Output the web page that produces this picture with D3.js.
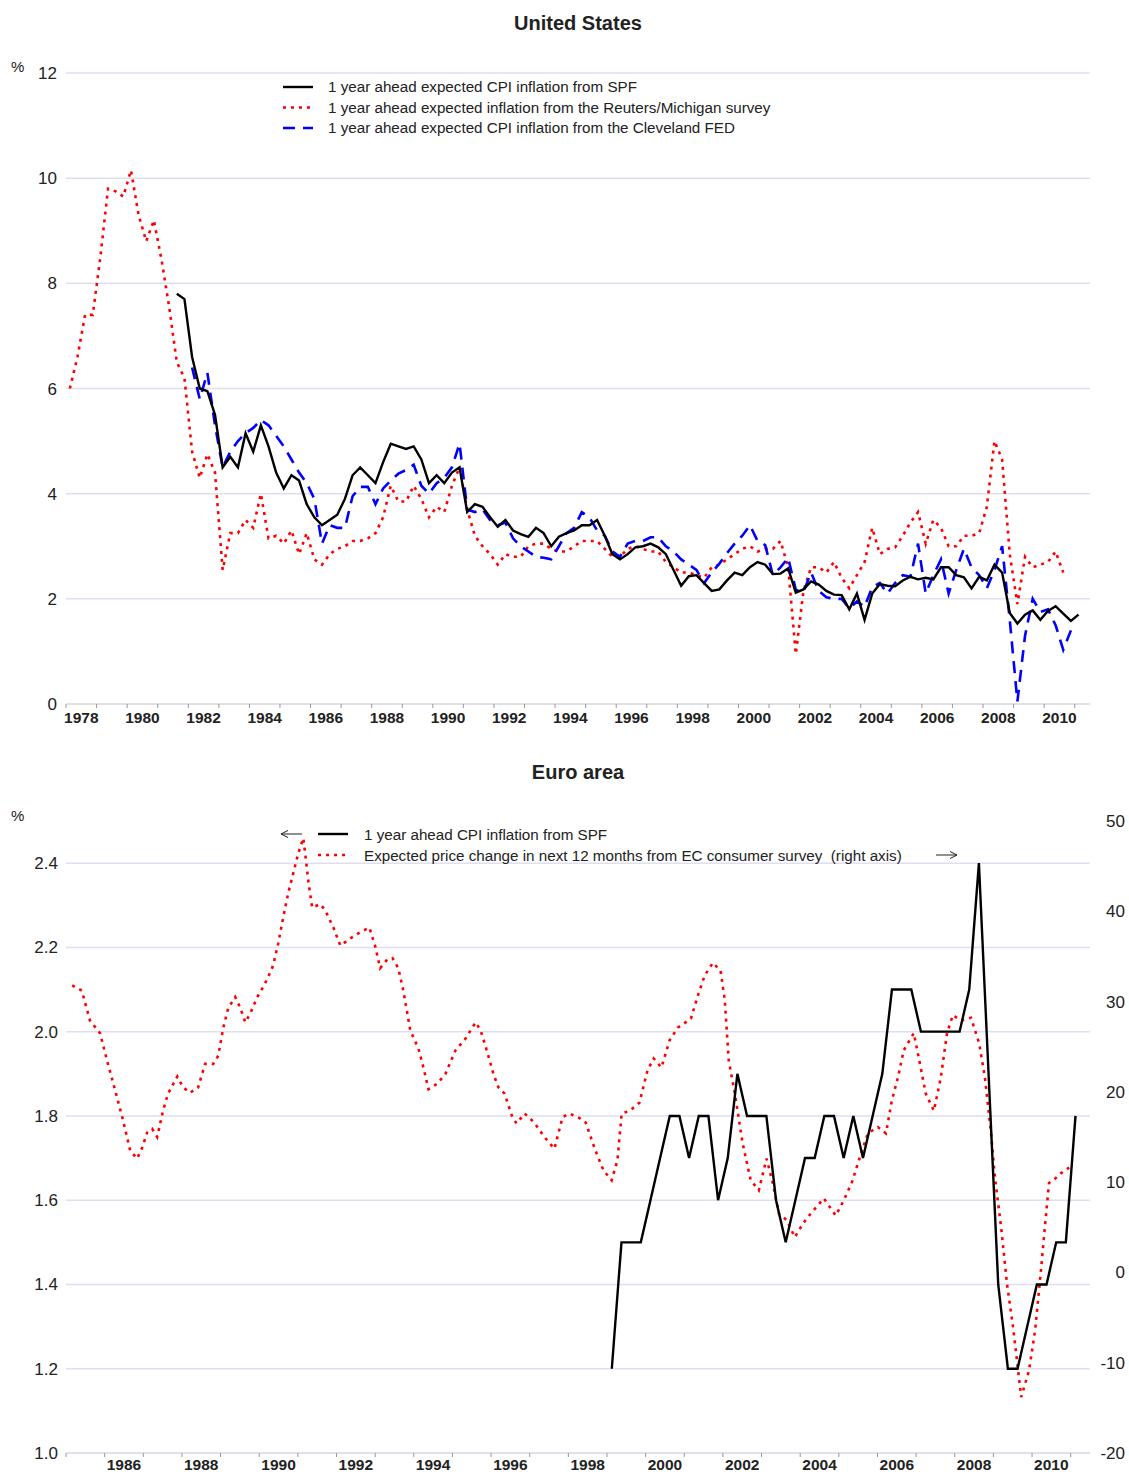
<!DOCTYPE html>
<html>
<head>
<meta charset="utf-8">
<script src="https://cdn.jsdelivr.net/npm/d3@7"></script>
<style>
  body { margin: 0; background: #fff; }
  text { font-family: "Liberation Sans", Arial, sans-serif; fill: #222; white-space: pre; }
</style>
</head>
<body>
<div id="chart"></div>
<script>
// ---- United States: quarterly, decimal years computed from start quarter ----
const spfUsStart = [1981, 3];
const spfUs = [7.8, 7.7,
  6.6, 6.0, 5.95, 5.5,   4.5, 4.7, 4.5, 5.15,   4.8, 5.3, 4.9, 4.4,
  4.1, 4.35, 4.25, 3.8,  3.55, 3.4, 3.5, 3.6,   3.9, 4.35, 4.5, 4.35,
  4.2, 4.6, 4.95, 4.9,   4.85, 4.9, 4.65, 4.2,  4.35, 4.2, 4.4, 4.5,
  3.65, 3.8, 3.75, 3.55, 3.37, 3.5, 3.3, 3.23, 3.18, 3.35, 3.25, 3.0,
  3.18, 3.25, 3.3, 3.4,  3.4, 3.5, 3.2, 2.85,   2.75, 2.85, 2.98, 3.0,
  3.05, 2.98, 2.85, 2.55, 2.25, 2.43, 2.45, 2.3, 2.15, 2.18, 2.35, 2.5,
  2.45, 2.6, 2.7, 2.65,  2.47, 2.48, 2.58, 2.12, 2.18, 2.33, 2.27, 2.15,
  2.08, 2.07, 1.8, 2.1,  1.6, 2.1, 2.28, 2.25,  2.24, 2.35, 2.42, 2.37,
  2.4, 2.37, 2.6, 2.6,   2.45, 2.41, 2.2, 2.42, 2.35, 2.65, 2.5, 1.73,
  1.53, 1.7, 1.78, 1.6,  1.77, 1.86, 1.72, 1.58, 1.7];

const michiganStart = [1978, 1];
const michigan = [6.0, 6.6, 7.4, 7.4,  8.5, 9.8, 9.75, 9.65,  10.15, 9.3, 8.8, 9.2,
  8.45, 7.55, 6.5, 6.2,  4.8, 4.3, 4.75, 4.4,  2.55, 3.25, 3.25, 3.5,
  3.35, 4.0, 3.15, 3.2,  3.05, 3.3, 2.85, 3.25, 2.75, 2.65, 2.85, 2.95,
  3.0, 3.1, 3.1, 3.15,   3.25, 3.55, 4.15, 3.85, 3.85, 4.15, 3.9, 3.55,
  3.75, 3.65, 4.15, 4.5, 3.7, 3.2, 3.0, 2.85,  2.65, 2.85, 2.8, 2.8,
  3.0, 3.05, 3.05, 2.95, 2.9, 2.9, 3.0, 3.1,   3.1, 3.1, 2.95, 2.8,
  2.8, 2.95, 3.0, 2.95,  2.9, 2.9, 2.7, 2.6,   2.5, 2.5, 2.45, 2.4,
  2.6, 2.65, 2.75, 2.85, 2.95, 3.0, 2.9, 2.95, 2.95, 3.1, 2.6, 0.95,
  2.15, 2.6, 2.6, 2.5,   2.7, 2.4, 2.2, 2.45,  2.7, 3.35, 2.85, 2.95,
  2.98, 3.2, 3.45, 3.65, 3.05, 3.5, 3.35, 3.0, 3.0, 3.2, 3.2, 3.25,
  3.75, 5.0, 4.65, 2.85, 1.9, 2.8, 2.6, 2.65,  2.7, 2.9, 2.5];

const clevelandStart = [1982, 1];
const cleveland = [6.4, 5.8, 6.3, 5.3,  4.5, 4.8, 5.0, 5.15,  5.25, 5.4, 5.3, 5.1,
  4.9, 4.65, 4.4, 4.2,   3.9, 3.05, 3.4, 3.35,  3.35, 3.95, 4.13, 4.13,
  3.8, 4.1, 4.25, 4.38,  4.45, 4.55, 4.15, 4.0, 4.2, 4.3, 4.5, 4.95,
  3.7, 3.65, 3.7, 3.5,   3.4, 3.45, 3.15, 3.0,  2.9, 2.8, 2.78, 2.75,
  3.0, 3.25, 3.35, 3.65, 3.55, 3.3, 3.2, 2.9,  2.8, 3.05, 3.1, 3.1,
  3.17, 3.17, 3.0, 2.9,  2.75, 2.65, 2.55, 2.3, 2.5, 2.67, 2.87, 3.05,
  3.2, 3.4, 3.1, 3.02,   2.45, 2.6, 2.78, 2.17, 2.13, 2.5, 2.15, 2.03,
  2.0, 2.0, 1.82, 1.95,  1.85, 2.22, 2.3, 2.1,  2.3, 2.45, 2.42, 3.05,
  2.1, 2.45, 2.75, 2.1,  2.55, 2.95, 2.6, 2.45, 2.2, 2.55, 3.0, 1.6,
  0.05, 1.3, 2.0, 1.75,  1.8, 1.5, 1.03, 1.4];

// ---- Euro area ----
const spfEaStart = [1999, 1];
const spfEa = [1.2, 1.5, 1.5, 1.5,  1.6, 1.7, 1.8, 1.8,  1.7, 1.8, 1.8, 1.6,
  1.7, 1.9, 1.8, 1.8,  1.8, 1.6, 1.5, 1.6,  1.7, 1.7, 1.8, 1.8,
  1.7, 1.8, 1.7, 1.8,  1.9, 2.1, 2.1, 2.1,  2.0, 2.0, 2.0, 2.0,
  2.0, 2.1, 2.4, 1.9,  1.4, 1.2, 1.2, 1.3,  1.4, 1.4, 1.5, 1.5, 1.8];

const ecDates = [1985.16, 1985.41, 1985.62, 1985.88, 1986.06, 1986.27, 1986.48, 1986.66, 1986.84, 1986.97,
  1987.10, 1987.23, 1987.36, 1987.51, 1987.64, 1987.88, 1988.03, 1988.21, 1988.42, 1988.60,
  1988.81, 1988.94, 1989.07, 1989.20, 1989.38, 1989.51, 1989.64, 1989.77, 1989.95, 1990.10,
  1990.23, 1990.36, 1990.49, 1990.62, 1990.75, 1990.88, 1991.01, 1991.14, 1991.19, 1991.27,
  1991.37, 1991.58, 1991.71, 1991.92, 1992.10, 1992.36, 1992.62, 1992.85, 1993.01, 1993.13,
  1993.32, 1993.45, 1993.60, 1993.73, 1993.91, 1994.12, 1994.25, 1994.38, 1994.61, 1994.82,
  1995.08, 1995.34, 1995.60, 1995.73, 1995.91, 1996.06, 1996.19, 1996.35, 1996.55, 1996.66,
  1996.87, 1997.12, 1997.38, 1997.64, 1997.85, 1998.03, 1998.29, 1998.45, 1998.70, 1998.91,
  1999.12, 1999.27, 1999.38, 1999.59, 1999.84, 2000.05, 2000.21, 2000.41, 2000.62, 2000.83,
  2001.17, 2001.37, 2001.53, 2001.74, 2001.94, 2002.05, 2002.15, 2002.31, 2002.51, 2002.72,
  2002.93, 2003.13, 2003.29, 2003.45, 2003.65, 2003.86, 2004.07, 2004.27, 2004.61, 2004.92,
  2005.13, 2005.34, 2005.54, 2005.75, 2006.01, 2006.22, 2006.37, 2006.53, 2006.68, 2006.94,
  2007.10, 2007.25, 2007.46, 2007.64, 2007.80, 2007.95, 2008.16, 2008.42, 2008.63, 2008.78,
  2008.94, 2009.04, 2009.20, 2009.35, 2009.51, 2009.72, 2009.92, 2010.08, 2010.23, 2010.34,
  2010.44, 2010.60, 2010.75, 2010.96];
const ecValues = [31.8, 31.2, 27.9, 26.5, 23.5, 20.2, 16.8, 13.5, 12.6, 13.8,
  15.5, 15.9, 15.0, 17.9, 19.8, 21.7, 20.5, 19.9, 20.5, 23.1,
  23.1, 24.0, 27.1, 29.3, 30.5, 29.3, 27.7, 28.7, 30.5, 31.6,
  32.7, 34.0, 36.4, 39.3, 42.0, 44.2, 46.4, 48.1, 46.4, 43.4,
  40.4, 40.8, 40.1, 38.2, 36.2, 37.0, 37.7, 38.2, 36.0, 33.7,
  34.7, 34.8, 33.7, 31.2, 26.8, 24.8, 22.7, 20.3, 20.9, 22.0,
  24.6, 25.9, 27.7, 26.8, 24.3, 22.0, 20.5, 19.8, 17.2, 16.5,
  17.6, 16.6, 15.0, 13.7, 17.2, 17.6, 17.1, 16.6, 13.5, 11.3,
  10.2, 12.4, 17.6, 17.9, 18.8, 22.4, 23.7, 22.7, 25.7, 27.1,
  28.1, 30.9, 32.9, 34.3, 33.4, 30.1, 23.5, 19.8, 14.3, 10.2,
  9.1, 12.6, 9.9, 6.5, 5.8, 3.9, 5.4, 6.5, 8.2, 6.3,
  8.0, 10.0, 12.7, 15.4, 16.1, 15.4, 19.0, 21.6, 24.6, 26.5,
  23.1, 19.8, 17.9, 21.6, 26.5, 28.5, 27.9, 28.2, 25.4, 21.6,
  15.4, 10.5, 5.0, -1.2, -6.1, -13.8, -10.9, -6.4, 0.2, 5.4,
  9.9, 10.4, 11.0, 11.6];

const usTicks = [0, 2, 4, 6, 8, 10, 12];
const eaLeftTicks = [1.0, 1.2, 1.4, 1.6, 1.8, 2.0, 2.2, 2.4];
const eaRightTicks = [-20, -10, 0, 10, 20, 30, 40, 50];

const usLegend = ["1 year ahead expected CPI inflation from SPF",
  "1 year ahead expected inflation from the Reuters/Michigan survey",
  "1 year ahead expected CPI inflation from the Cleveland FED"];
const eaLegend = ["1 year ahead CPI inflation from SPF",
  "Expected price change in next 12 months from EC consumer survey  (right axis)"];

const W = 1129, H = 1472;
const gridColor = "#dedff0";

const styles = {
  black: {stroke: "#000", width: 2.4, dash: null},
  red:   {stroke: "#ff0000", width: 2.6, dash: "3,5"},
  blue:  {stroke: "#0000ff", width: 2.6, dash: "12,8"}
};

function quarterly(start, vals) {
  return vals.map((v, i) => {
    let q = start[1] - 1 + i;
    return {t: start[0] + Math.floor(q / 4) + ((q % 4) + 0.5) / 4, v: v};
  });
}

const svg = d3.select("#chart").append("svg")
  .attr("width", W).attr("height", H);

function styled(sel, s) {
  sel.attr("fill", "none")
    .attr("stroke", s.stroke)
    .attr("stroke-width", s.width)
    .attr("stroke-linejoin", "miter");
  if (s.dash) sel.attr("stroke-dasharray", s.dash);
  return sel;
}

function xAxis(g, x, y0, firstYear, lastYear, labelDy) {
  let years = d3.range(firstYear, lastYear + 1);
  g.append("line")
    .attr("x1", x.range()[0]).attr("x2", x.range()[1])
    .attr("y1", y0).attr("y2", y0)
    .attr("stroke", "#d6d6e6").attr("stroke-width", 1.5);
  g.selectAll(".tick").data(years).enter().append("line")
    .attr("x1", d => x(d)).attr("x2", d => x(d))
    .attr("y1", y0).attr("y2", y0 + 4)
    .attr("stroke", "#999");
  g.selectAll(".yl").data(years.filter(d => d % 2 === 0 && d < lastYear)).enter().append("text")
    .attr("x", d => x(d + 0.5)).attr("y", y0 + labelDy)
    .attr("text-anchor", "middle")
    .attr("font-size", 15.5).attr("font-weight", "bold")
    .text(d => d);
}

function grid(g, x, y, ticks) {
  g.selectAll(".grid").data(ticks.slice(1)).enter().append("line")
    .attr("x1", x.range()[0]).attr("x2", x.range()[1])
    .attr("y1", d => y(d)).attr("y2", d => y(d))
    .attr("stroke", gridColor).attr("stroke-width", 1.5);
}

function yLabels(g, y, ticks, xr, fmt) {
  g.selectAll(".yt").data(ticks).enter().append("text")
    .attr("x", xr).attr("y", d => y(d) + 6)
    .attr("text-anchor", "end")
    .attr("font-size", 17)
    .text(fmt);
}

// ================= United States =================
const xUs = d3.scaleLinear().domain([1978, 2011.5]).range([66, 1090]);
const yUs = d3.scaleLinear().domain([0, 12]).range([704, 73]);
const gUs = svg.append("g");

gUs.append("text").attr("x", 578).attr("y", 30).attr("text-anchor", "middle")
  .attr("font-size", 20).attr("font-weight", "bold").text("United States");
gUs.append("text").attr("x", 11).attr("y", 72).attr("font-size", 15).text("%");

grid(gUs, xUs, yUs, usTicks);
yLabels(gUs, yUs, usTicks, 57, d => d);
xAxis(gUs, xUs, 704, 1978, 2011, 19);

const lineUs = d3.line().x(d => xUs(d.t)).y(d => yUs(d.v));
styled(gUs.append("path").attr("d", lineUs(quarterly(michiganStart, michigan))), styles.red);
styled(gUs.append("path").attr("d", lineUs(quarterly(clevelandStart, cleveland))), styles.blue);
styled(gUs.append("path").attr("d", lineUs(quarterly(spfUsStart, spfUs))), styles.black);

// legend
const usKeys = [styles.black, styles.red, styles.blue];
usLegend.forEach((label, i) => {
  let yy = 87 + i * 20.5;
  styled(gUs.append("line").attr("x1", 283).attr("x2", 313).attr("y1", yy).attr("y2", yy), usKeys[i]);
  gUs.append("text").attr("x", 328).attr("y", yy + 5).attr("font-size", 15.2).text(label);
});

// ================= Euro area =================
const xEa = d3.scaleLinear().domain([1985, 2011.5]).range([66, 1090]);
const yEaL = d3.scaleLinear().domain([1.0, 2.5]).range([1453, 821]);
const yEaR = d3.scaleLinear().domain([-20, 50]).range([1453, 821]);
const gEa = svg.append("g");

gEa.append("text").attr("x", 578).attr("y", 779).attr("text-anchor", "middle")
  .attr("font-size", 20).attr("font-weight", "bold").text("Euro area");
gEa.append("text").attr("x", 11).attr("y", 821).attr("font-size", 15).text("%");

grid(gEa, xEa, yEaL, eaLeftTicks);
yLabels(gEa, yEaL, eaLeftTicks, 58, d => d.toFixed(1));
yLabels(gEa, yEaR, eaRightTicks, 1125, d => String(d));
xAxis(gEa, xEa, 1453, 1985, 2011, 17);

const ecSeries = ecDates.map((t, i) => ({t: t, v: ecValues[i]}));
styled(gEa.append("path").attr("d", d3.line().x(d => xEa(d.t)).y(d => yEaR(d.v))(ecSeries)), styles.red);
styled(gEa.append("path").attr("d", d3.line().x(d => xEa(d.t)).y(d => yEaL(d.v))(quarterly(spfEaStart, spfEa))), styles.black);

// legend
const eaKeys = [styles.black, styles.red];
eaLegend.forEach((label, i) => {
  let yy = 834 + i * 21;
  styled(gEa.append("line").attr("x1", 318).attr("x2", 348).attr("y1", yy).attr("y2", yy), eaKeys[i]);
  gEa.append("text").attr("x", 364).attr("y", yy + 6).attr("font-size", 15.2).text(label);
});
// axis arrows
gEa.append("path").attr("d", "M302,834H281M288,830.5L281,834L288,837.5")
  .attr("fill", "none").attr("stroke", "#222").attr("stroke-width", 1);
gEa.append("path").attr("d", "M936,855H957M950,851.5L957,855L950,858.5")
  .attr("fill", "none").attr("stroke", "#222").attr("stroke-width", 1);
</script>
</body>
</html>
